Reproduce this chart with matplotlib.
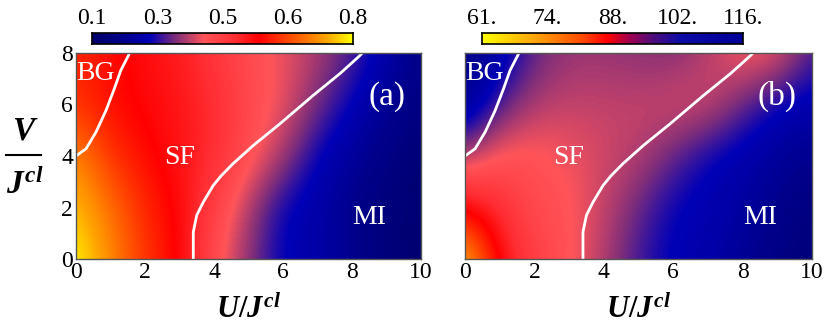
import numpy as np
import matplotlib
matplotlib.use('Agg')
import matplotlib.pyplot as plt
from matplotlib.colors import LinearSegmentedColormap
from matplotlib.lines import Line2D

plt.rcParams['font.family'] = ['Liberation Serif', 'DejaVu Serif']
plt.rcParams['mathtext.fontset'] = 'custom'
plt.rcParams['mathtext.it'] = 'Liberation Serif:italic:bold'
plt.rcParams['mathtext.rm'] = 'Liberation Serif:bold'

# grid of the maps: U/J^cl columns, V/J^cl rows
u_vals = [0, 1, 2, 3, 4, 5, 6, 7, 8, 9, 10]
v_vals = [0, 2, 4, 6, 8]

# panel (a), rows V = 0, 2, 4, 6, 8
map_a = [
    [0.80, 0.70, 0.60, 0.55, 0.42, 0.33, 0.25, 0.23, 0.19, 0.14, 0.11],
    [0.75, 0.67, 0.59, 0.54, 0.45, 0.35, 0.25, 0.23, 0.18, 0.14, 0.12],
    [0.70, 0.60, 0.56, 0.52, 0.49, 0.42, 0.35, 0.25, 0.21, 0.16, 0.12],
    [0.60, 0.56, 0.54, 0.52, 0.49, 0.43, 0.39, 0.32, 0.25, 0.20, 0.16],
    [0.59, 0.56, 0.53, 0.51, 0.47, 0.42, 0.39, 0.35, 0.30, 0.23, 0.17],
]
# panel (b)
map_b = [
    [63.8, 81.9, 88.5, 91.8, 96.2, 101.2, 104.5, 105.6, 108.3, 111.1, 113.3],
    [81.4, 85.8, 90.7, 91.8, 95.1, 99.5, 103.9, 105.0, 106.7, 109.4, 112.2],
    [96.2, 91.3, 91.3, 92.9, 94.6, 95.7, 99.5, 103.9, 105.6, 107.8, 109.4],
    [109.4, 100.6, 96.2, 95.1, 95.1, 95.1, 94.0, 94.0, 99.5, 103.9, 105.6],
    [110.5, 106.1, 99.5, 97.3, 97.3, 97.9, 98.4, 96.2, 91.8, 92.9, 100.6],
]

# phase boundaries (same in both panels)
bg_u = [0.0, 0.29, 0.58, 0.87, 1.11, 1.30, 1.53, 1.55]
bg_v = [4.0, 4.28, 4.93, 5.77, 6.61, 7.33, 7.93, 8.0]
mi_u = [3.40, 3.40, 3.50, 3.69, 3.98, 4.20, 4.55, 5.14, 5.91, 6.88, 7.65, 8.18, 8.30]
mi_v = [0.0, 1.05, 1.70, 2.21, 2.86, 3.22, 3.70, 4.41, 5.25, 6.36, 7.20, 7.84, 8.0]

range_a = (0.1, 0.8)
range_b = (61, 116)
labels_a = ['0.1', '0.3', '0.5', '0.6', '0.8']
labels_b = ['61.', '74.', '88.', '102.', '116.']

cmap_a = LinearSegmentedColormap.from_list('heat', [
    (0.00, (0.0, 0.0, 0.42)),
    (0.12, (0.0, 0.0, 0.55)),
    (0.22, (0.0, 0.0, 0.72)),
    (0.32, (0.5, 0.18, 0.48)),
    (0.43, (1.0, 0.33, 0.35)),
    (0.55, (1.0, 0.18, 0.2)),
    (0.64, (1.0, 0.0, 0.0)),
    (0.78, (1.0, 0.35, 0.0)),
    (0.90, (1.0, 0.65, 0.0)),
    (1.00, (1.0, 1.0, 0.0)),
])
cmap_bar_b = LinearSegmentedColormap.from_list('heat_b', [
    (0.00, (1.0, 1.0, 0.0)),
    (0.20, (1.0, 0.65, 0.05)),
    (0.38, (1.0, 0.3, 0.0)),
    (0.48, (1.0, 0.0, 0.0)),
    (0.56, (0.65, 0.0, 0.3)),
    (0.66, (0.3, 0.05, 0.5)),
    (0.76, (0.05, 0.05, 0.65)),
    (1.00, (0.0, 0.0, 0.6)),
])

W, H = 830, 332
fig = plt.figure(figsize=(8.3, 3.32), dpi=100)


def px_axes(x0, y0, x1, y1):
    return fig.add_axes([x0 / W, 1 - y1 / H, (x1 - x0) / W, (y1 - y0) / H])


du = (u_vals[1] - u_vals[0]) / 2
dv = (v_vals[1] - v_vals[0]) / 2
ext = [u_vals[0] - du, u_vals[-1] + du, v_vals[0] - dv, v_vals[-1] + dv]

panels = [
    (76, 421, map_a, cmap_a, range_a, '(a)', (92, 353), labels_a, cmap_a),
    (465, 812, map_b, cmap_a.reversed(), range_b, '(b)', (482, 743), labels_b, cmap_bar_b),
]

for i, (x0, x1, data, cmap, rng, tag, cb_x, cb_labels, cb_cmap) in enumerate(panels):
    ax = px_axes(x0, 53, x1, 259)
    ax.imshow(np.array(data), origin='lower', extent=ext, aspect='auto',
              cmap=cmap, vmin=rng[0], vmax=rng[1], interpolation='bicubic')
    ax.set_xlim(0, 10)
    ax.set_ylim(0, 8)
    ax.plot(bg_u, bg_v, color='white', lw=2)
    ax.plot(mi_u, mi_v, color='white', lw=2)
    for s in ax.spines.values():
        s.set_color('#555555')
        s.set_linewidth(1)
    ax.set_xticks([0, 2, 4, 6, 8, 10])
    ax.set_yticks([0, 2, 4, 6, 8])
    ax.tick_params(length=0, labelsize=17, pad=2)
    if i == 1:
        ax.set_yticklabels([])
    ax.set_xlabel(r'$U/J^{cl}$', fontsize=22, labelpad=9)

    ax.text(0.0, 7.2, 'BG', color='white', fontsize=20, va='center', ha='left')
    ax.text(3.0, 3.95, 'SF', color='white', fontsize=20, va='center', ha='center')
    ax.text(8.5, 1.6, 'MI', color='white', fontsize=20, va='center', ha='center')
    ax.text(9.0, 6.3, tag, color='white', fontsize=24, va='center', ha='center')

    # colorbar on top
    cax = px_axes(cb_x[0], 33, cb_x[1], 44)
    grad = np.linspace(rng[0], rng[1], 256)[None, :]
    cax.imshow(grad, aspect='auto', cmap=cb_cmap, vmin=rng[0], vmax=rng[1],
               extent=[rng[0], rng[1], 0, 1])
    cax.set_yticks([])
    cax.set_xticks(np.linspace(rng[0], rng[1], 5))
    cax.set_xticklabels(cb_labels)
    cax.xaxis.set_ticks_position('top')
    cax.tick_params(length=0, labelsize=17, pad=3)
    for s in cax.spines.values():
        s.set_linewidth(1.2)

# y label as a stacked fraction
fig.text(25 / W, 1 - 131 / H, r'$V$', fontsize=24, ha='center', va='center')
fig.add_artist(Line2D([6 / W, 41 / W], [1 - 155 / H, 1 - 155 / H],
                      color='black', lw=1.5, transform=fig.transFigure))
fig.text(25 / W, 1 - 185 / H, r'$J^{cl}$', fontsize=24, ha='center', va='center')

fig.savefig('out.png', dpi=100)
